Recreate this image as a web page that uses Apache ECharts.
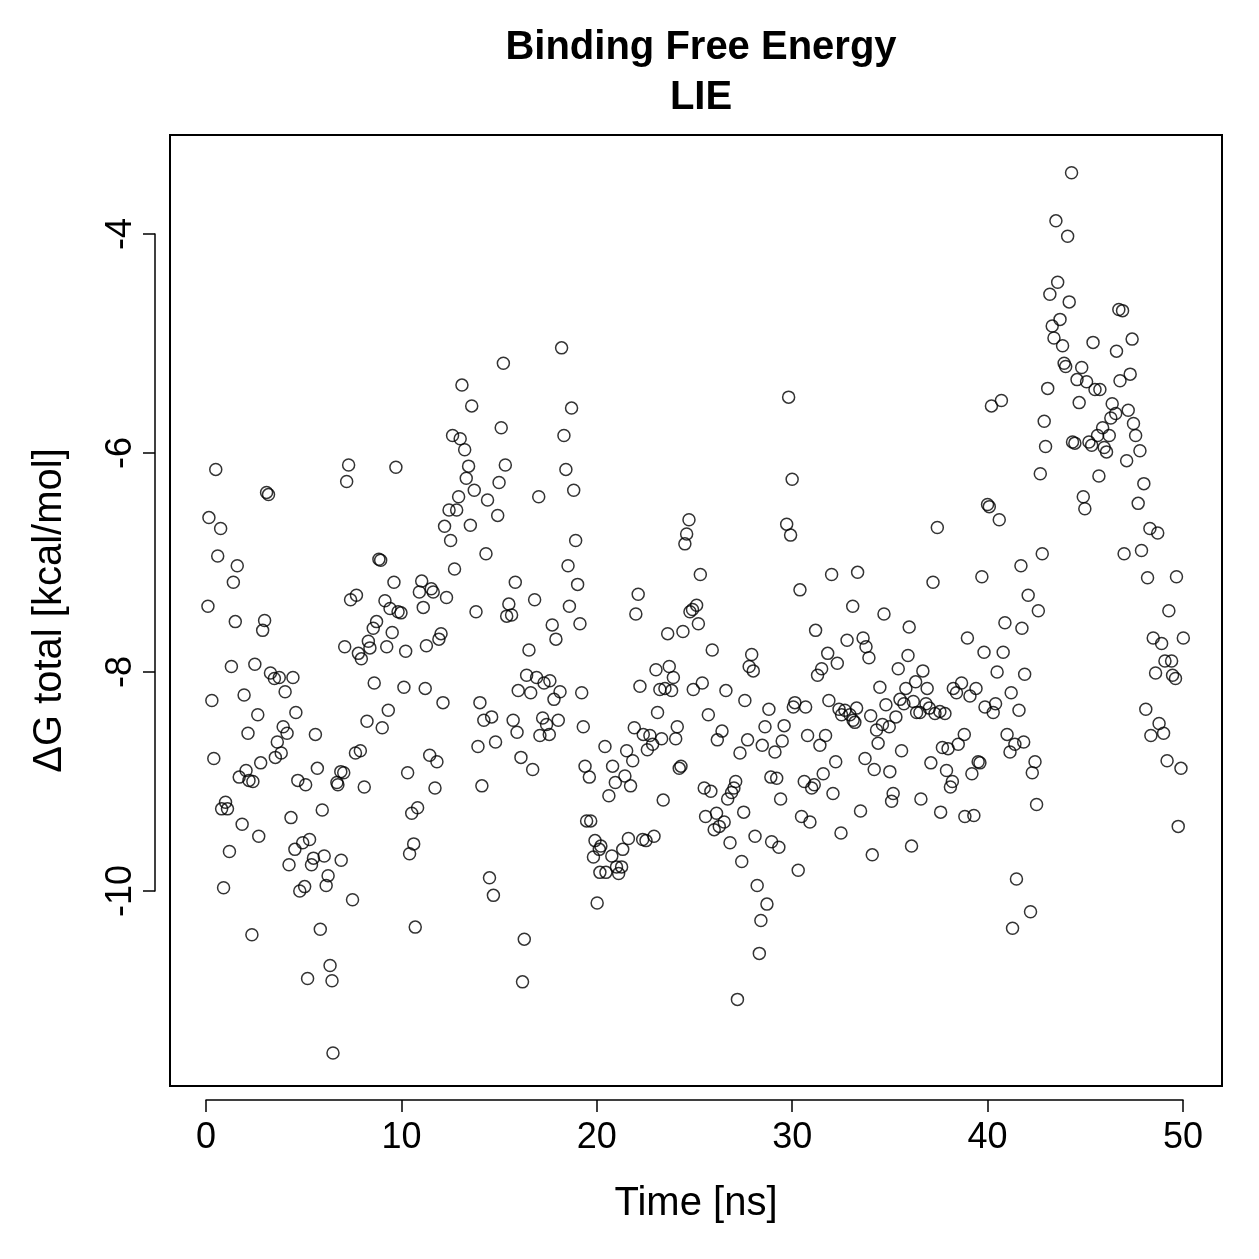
<!DOCTYPE html>
<html>
<head>
<meta charset="utf-8">
<title>Binding Free Energy - LIE</title>
<script src="https://cdn.jsdelivr.net/npm/echarts@6.0.0/dist/echarts.min.js"></script>
<style>
  html, body { margin: 0; padding: 0; background: #fff; }
  #main { width: 1259px; height: 1259px; }
</style>
</head>
<body>
<div id="main"></div>
<script type="text/javascript">
    // time in ns
    var timeNs = [
        0.1,0.15,0.3,0.4,0.5,0.6,0.75,0.8,0.9,1.0,
        1.1,1.2,1.3,1.4,1.5,1.6,1.7,1.85,1.95,2.05,
        2.15,2.2,2.35,2.4,2.5,2.65,2.7,2.8,2.9,3.0,
        3.1,3.2,3.3,3.5,3.55,3.65,3.75,3.85,3.95,4.05,
        4.15,4.25,4.35,4.45,4.55,4.6,4.7,4.8,4.95,5.05,
        5.1,5.2,5.3,5.4,5.5,5.6,5.7,5.85,5.95,6.05,
        6.15,6.25,6.35,6.45,6.5,6.7,6.75,6.9,6.92,7.05,
        7.1,7.2,7.3,7.4,7.5,7.65,7.7,7.8,7.9,7.95,
        8.1,
        8.24,8.31,8.39,8.56,8.61,8.73,8.85,8.94,9.02,9.16,
        9.25,9.33,9.42,9.53,9.62,9.72,9.83,9.98,10.13,10.22,
        10.32,10.42,10.53,10.63,10.71,10.83,10.92,11.04,11.12,11.22,
        11.28,11.53,11.45,11.63,11.72,11.82,11.92,12.03,12.13,12.21,
        12.31,12.44,12.52,12.62,12.72,12.83,12.93,13.01,13.1,13.24,
        13.32,13.44,13.53,13.6,13.73,13.82,13.92,14.02,14.12,14.22,
        14.33,14.41,14.51,14.62,14.71,14.82,14.93,15.0,15.11,15.22,
        15.32,15.39,15.5,15.64,15.72,15.83,15.92,15.98,16.12,16.2,
        16.29,16.41,16.53,16.62,16.72,
        16.82,16.92,17.03,17.09,17.23,17.3,17.43,17.57,17.6,17.72,
        17.81,17.91,18.03,18.12,18.2,18.32,18.42,18.53,18.6,18.71,
        18.82,18.92,19.02,19.14,19.23,19.31,19.4,19.48,19.62,19.69,
        19.83,19.91,20.02,20.13,20.16,20.21,20.42,20.47,20.62,20.77,
        20.81,20.95,21.01,21.12,21.27,21.33,21.44,21.53,21.62,21.73,
        21.84,21.92,22.0,22.12,22.21,22.35,22.38,22.52,22.59,22.72,
        22.86,22.93,23.03,23.11,23.23,23.32,23.4,23.49,23.63,23.71,
        23.83,23.92,24.04,24.12,24.22,24.31,24.41,24.51,24.6,24.72,
        24.77,24.9,24.94,25.11,25.2,25.3,
        25.4,25.5,25.57,25.71,25.84,25.91,26.01,26.13,26.17,26.27,
        26.41,26.52,26.61,26.7,26.82,26.9,27.02,27.11,27.2,27.33,
        27.42,27.52,27.58,27.72,27.8,27.93,28.01,28.1,28.21,28.32,
        28.4,28.47,28.61,28.71,28.81,28.91,28.95,29.12,29.21,29.32,
        29.41,29.49,29.59,29.72,29.82,29.92,30.0,30.06,30.14,30.31,
        30.4,30.48,30.62,30.69,30.79,30.91,31.0,31.13,31.2,31.3,
        31.42,31.51,31.59,31.71,31.82,31.88,32.02,32.09,32.23,32.31,
        32.4,32.5,32.53,32.7,32.81,32.96,33.1,33.12,33.21,33.3,
        33.35,33.5,33.63,
        33.73,33.78,33.93,34.02,34.1,34.2,34.32,34.4,34.49,34.62,
        34.7,34.8,34.97,35.0,35.09,35.17,35.31,35.43,35.52,35.6,
        35.72,35.82,35.93,35.99,36.11,36.2,36.32,36.37,36.54,36.59,
        36.69,36.85,36.91,37.02,37.1,37.21,37.31,37.43,37.56,37.6,
        37.69,37.82,37.9,37.98,38.1,38.2,38.25,38.41,38.5,38.67,
        38.81,38.84,38.97,39.1,39.2,39.3,39.41,39.52,39.61,39.71,
        39.82,39.87,40.0,40.09,40.2,40.29,40.41,40.49,40.6,40.71,
        40.8,40.89,41.0,41.15,41.21,41.28,41.4,41.48,41.61,41.71,
        41.76,41.85,41.9,
        42.08,42.2,42.29,42.43,42.51,42.6,42.7,42.8,42.9,42.97,
        43.08,43.19,43.31,43.4,43.5,43.59,43.71,43.84,43.92,44.0,
        44.1,44.18,44.3,44.35,44.47,44.58,44.69,44.82,44.9,44.98,
        45.07,45.19,45.33,45.4,45.5,45.63,45.7,45.75,45.89,45.97,
        46.09,46.23,46.31,46.38,46.56,46.6,46.72,46.78,46.91,46.99,
        47.12,47.2,47.3,47.4,47.47,47.58,47.71,47.8,47.88,48.0,
        48.1,48.19,48.31,48.36,48.48,48.6,48.71,48.78,48.91,49.01,
        49.08,49.19,49.28,49.42,49.47,49.62,49.67,49.76,49.9,50.02
    ];

    // ΔG total in kcal/mol, same order as timeNs
    var deltaG = [
        -7.40,-6.59,-8.26,-8.79,-6.15,-6.94,-6.69,-9.25,-9.97,-9.19,
        -9.25,-9.64,-7.95,-7.18,-7.54,-7.03,-8.96,-9.39,-8.21,-8.90,
        -8.56,-8.99,-10.40,-9.00,-7.93,-8.39,-9.50,-8.83,-7.62,-7.53,
        -6.36,-6.38,-8.01,-8.06,-8.78,-8.64,-8.05,-8.74,-8.50,-8.18,
        -8.56,-9.76,-9.33,-8.05,-9.62,-8.37,-8.99,-10.00,-9.56,-9.96,
        -9.03,-10.80,-9.53,-9.76,-9.70,-8.57,-8.88,-10.35,-9.26,-9.68,
        -9.95,-9.86,-10.68,-10.82,-11.48,-9.01,-9.03,-8.91,-9.72,-8.92,
        -7.77,-6.26,-6.11,-7.34,-10.08,-8.74,-7.30,-7.83,-8.72,-7.88,
        -9.05,
        -8.45,-7.72,-7.78,-7.60,-8.10,-7.54,-6.97,-6.98,-8.51,-7.35,
        -7.77,-8.35,-7.42,-7.64,-7.18,-6.13,-7.45,-7.46,-8.14,-7.81,
        -8.92,-9.66,-9.29,-9.57,-10.33,-9.24,-7.27,-7.17,-7.41,-8.15,
        -7.76,-7.24,-8.76,-7.27,-9.06,-8.82,-7.70,-7.65,-8.28,-6.67,
        -7.32,-6.52,-6.80,-5.84,-7.06,-6.52,-6.40,-5.87,-5.38,-5.97,
        -6.23,-6.12,-6.66,-5.57,-6.34,-7.45,-8.68,-8.28,-9.04,-8.44,
        -6.92,-6.43,-9.88,-8.41,-10.04,-8.64,-6.57,-6.27,-5.77,-5.18,
        -6.11,-7.49,-7.38,-7.48,-8.44,-7.18,-8.55,-8.17,-8.78,-10.83,
        -10.44,-8.03,-7.80,-8.19,-8.89,
        -7.34,-8.05,-6.40,-8.58,-8.42,-8.10,-8.48,-8.57,-8.08,-7.57,
        -8.25,-7.70,-8.44,-8.18,-5.04,-5.84,-6.15,-7.03,-7.40,-5.59,
        -6.34,-6.80,-7.20,-7.56,-8.19,-8.50,-8.86,-9.36,-8.96,-9.36,
        -9.69,-9.54,-10.11,-9.62,-9.83,-9.59,-8.68,-9.83,-9.13,-9.68,
        -8.86,-9.01,-9.78,-9.84,-9.78,-9.62,-8.95,-8.72,-9.52,-9.04,
        -8.81,-8.51,-7.47,-7.29,-8.13,-9.53,-8.57,-9.54,-8.71,-8.58,
        -8.66,-9.50,-7.98,-8.37,-8.16,-8.61,-9.17,-8.15,-7.65,-7.95,
        -8.17,-8.05,-8.61,-8.50,-8.88,-8.86,-7.63,-6.83,-6.74,-6.61,
        -7.45,-7.43,-8.16,-7.39,-7.56,-7.11,
        -8.10,-9.06,-9.32,-8.39,-9.09,-7.80,-9.44,-9.29,-8.62,-9.41,
        -8.54,-9.37,-8.17,-9.16,-9.56,-9.10,-9.06,-9.00,-10.99,-8.74,
        -9.73,-9.28,-8.26,-8.62,-7.95,-7.84,-7.99,-9.50,-9.95,-10.57,
        -10.27,-8.67,-8.50,-10.12,-8.34,-8.96,-9.55,-8.73,-8.97,-9.60,
        -9.16,-8.63,-8.49,-6.65,-5.49,-6.75,-6.24,-8.32,-8.28,-9.81,
        -7.25,-9.32,-9.00,-8.32,-8.58,-9.37,-9.06,-9.03,-7.62,-8.03,
        -8.67,-7.97,-8.93,-8.58,-7.83,-8.26,-7.11,-9.11,-8.82,-7.92,
        -8.34,-9.47,-8.39,-8.35,-7.71,-8.39,-7.40,-8.44,-8.46,-8.33,
        -7.09,-9.27,-7.69,
        -8.79,-7.77,-7.87,-8.40,-9.67,-8.89,-8.53,-8.65,-8.14,-8.48,
        -7.47,-8.30,-8.50,-8.91,-9.18,-9.11,-8.41,-7.97,-8.25,-8.72,
        -8.29,-8.15,-7.85,-7.59,-9.59,-8.27,-8.09,-8.37,-8.37,-9.16,
        -7.99,-8.29,-8.15,-8.33,-8.83,-7.18,-8.38,-6.68,-8.36,-9.28,
        -8.69,-8.38,-8.90,-8.70,-9.05,-9.00,-8.15,-8.19,-8.66,-8.10,
        -8.57,-9.32,-7.69,-8.22,-8.93,-9.31,-8.15,-8.82,-8.83,-7.13,
        -7.82,-8.32,-6.47,-6.49,-5.57,-8.37,-8.29,-8.00,-6.61,-5.52,
        -7.82,-7.55,-8.57,-8.73,-8.19,-10.34,-8.66,-9.89,-8.35,-7.03,
        -7.60,-8.64,-8.02,
        -7.30,-10.19,-8.92,-8.82,-9.21,-7.44,-6.19,-6.92,-5.71,-5.94,
        -5.41,-4.55,-4.84,-4.95,-3.88,-4.44,-4.78,-5.02,-5.18,-5.21,
        -4.02,-4.62,-3.44,-5.90,-5.91,-5.33,-5.54,-5.22,-6.40,-6.51,
        -5.35,-5.90,-5.93,-4.99,-5.42,-5.84,-6.21,-5.42,-5.77,-5.95,
        -5.99,-5.84,-5.68,-5.55,-5.64,-5.07,-4.69,-5.34,-4.70,-6.92,
        -6.07,-5.61,-5.28,-4.96,-5.73,-5.84,-6.46,-5.98,-6.89,-6.28,
        -8.34,-7.14,-6.69,-8.58,-7.69,-8.01,-6.73,-8.47,-7.74,-8.56,
        -7.90,-8.81,-7.44,-7.90,-8.03,-8.06,-7.13,-9.41,-8.88,-7.69
    ];

    // tick ranges of the R style axes
    var xTicks = [0, 50, 10];     // min, max, step
    var yTicks = [-10, -4, 2];

    var points = [];
    for (var i = 0; i < timeNs.length; i++) {
        points.push([timeNs[i], deltaG[i]]);
    }

    var font = "'Liberation Sans', Arial, Helvetica, sans-serif";

    var myChart = echarts.init(document.getElementById('main'));

    var option = {
        animation: false,
        backgroundColor: '#fff',
        textStyle: { fontFamily: font, color: '#000' },
        title: {
            text: 'Binding Free Energy\nLIE',
            left: 696,
            textAlign: 'center',
            top: 18,
            textStyle: {
                fontFamily: font,
                fontWeight: 'bold',
                fontSize: 40,
                lineHeight: 50,
                color: '#000'
            }
        },
        grid: [
            // plot box
            { left: 170, right: 37, top: 135, bottom: 173, show: true, borderColor: '#000', borderWidth: 2, backgroundColor: 'transparent' },
            // x axis under the box
            { left: 206, right: 76, top: 1000, bottom: 159 },
            // y axis left of the box
            { left: 155, width: 100, top: 234, bottom: 368 }
        ],
        xAxis: [
            {
                gridIndex: 0, type: 'value', min: -1.842, max: 52.0,
                name: 'Time [ns]', nameLocation: 'middle', nameGap: 98,
                nameTextStyle: { fontFamily: font, fontSize: 40, color: '#000' },
                axisLine: { show: false }, axisTick: { show: false },
                axisLabel: { show: false }, splitLine: { show: false }
            },
            {
                gridIndex: 1, type: 'value', position: 'bottom',
                min: xTicks[0], max: xTicks[1], interval: xTicks[2],
                axisLine: { show: true, lineStyle: { color: '#000', width: 1.5 } },
                axisTick: { show: true, inside: false, length: 12, lineStyle: { color: '#000', width: 1.5 } },
                axisLabel: { show: true, margin: 20, fontFamily: font, fontSize: 36, color: '#000' },
                splitLine: { show: false }
            },
            { gridIndex: 2, type: 'value', show: false }
        ],
        yAxis: [
            {
                gridIndex: 0, type: 'value', min: -11.781, max: -3.096,
                name: 'ΔG total [kcal/mol]', nameLocation: 'middle', nameGap: 100,
                nameTextStyle: { fontFamily: font, fontSize: 40, color: '#000' },
                axisLine: { show: false }, axisTick: { show: false },
                axisLabel: { show: false }, splitLine: { show: false }
            },
            { gridIndex: 1, type: 'value', show: false },
            {
                gridIndex: 2, type: 'value', position: 'left',
                min: yTicks[0], max: yTicks[1], interval: yTicks[2],
                axisLine: { show: true, lineStyle: { color: '#000', width: 1.5 } },
                axisTick: { show: true, inside: false, length: 12, lineStyle: { color: '#000', width: 1.5 } },
                axisLabel: { show: true, rotate: 90, margin: 16, fontFamily: font, fontSize: 36, color: '#000' },
                splitLine: { show: false }
            }
        ],
        series: [
            {
                name: 'LIE',
                type: 'scatter',
                xAxisIndex: 0,
                yAxisIndex: 0,
                data: points,
                symbol: 'circle',
                symbolSize: 12,
                itemStyle: { color: 'rgba(0,0,0,0)', borderColor: '#000', borderWidth: 1.5 },
                emphasis: { disabled: true },
                silent: true
            }
        ]
    };

    myChart.setOption(option);
</script>
</body>
</html>
